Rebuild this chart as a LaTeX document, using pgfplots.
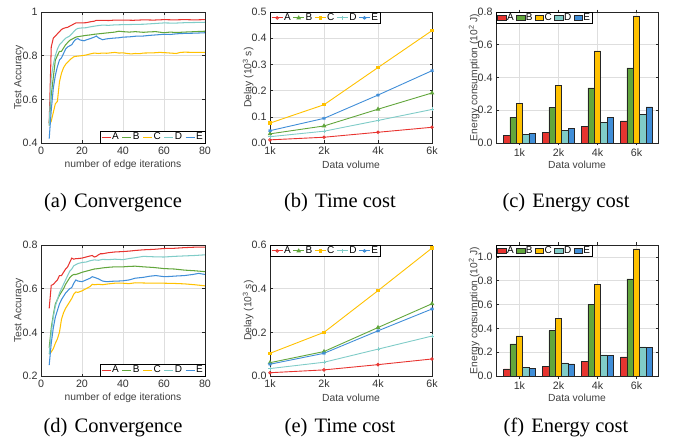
\documentclass[border=0pt]{standalone}
\usepackage{pgfplots}
\pgfplotsset{compat=1.18}
\usepackage{fontspec}
\setmainfont{Liberation Sans}
\newfontfamily\capfont{Liberation Serif}

\definecolor{cA}{RGB}{232,52,48}
\definecolor{cB}{RGB}{98,166,60}
\definecolor{cC}{RGB}{255,193,0}
\definecolor{cD}{RGB}{128,204,200}
\definecolor{cE}{RGB}{64,142,216}

\pgfplotsset{
  panel/.style={
    scale only axis, width=163pt, height=131pt, anchor=south west,
    axis line style={draw=black!85, line width=0.6pt},
    grid=major, major grid style={draw=black!13, line width=0.5pt},
    tick align=inside, major tick length=2.5pt,
    tick style={draw=black!85, line width=0.5pt},
    tick label style={font=\fontsize{10.7}{12}\selectfont, text=black!80},
    label style={font=\fontsize{10.3}{12}\selectfont, text=black!75},
    /pgf/number format/assume math mode=true,
    xlabel style={at={(axis description cs:0.5,-0.165)}, anchor=center},
    ylabel style={at={(axis description cs:-0.135,0.5)}, anchor=center},
  },
  onedec/.style={yticklabel style={/pgf/number format/.cd, fixed, fixed zerofill, precision=1}},
  conv legend/.style={
    legend style={at={(1,0)}, anchor=south east, legend columns=5,
      draw=black, fill=white, font=\fontsize{10}{11}\selectfont,
      inner xsep=1pt, inner ysep=0.5pt,
      nodes={inner xsep=1pt, inner ysep=1pt},
      /tikz/every even column/.append style={column sep=2pt}},
    legend image code/.code={\draw[#1] (0pt,0pt) -- (9pt,0pt);},
  },
  delay legend/.style={
    legend style={at={(0,1)}, anchor=north west, legend columns=5,
      draw=black, fill=white, font=\fontsize{10}{11}\selectfont,
      inner xsep=1pt, inner ysep=0.5pt,
      nodes={inner xsep=1pt, inner ysep=1pt},
      /tikz/every even column/.append style={column sep=1pt}},
    legend image code/.code={\draw[mark repeat=2, mark phase=2, #1]
      plot coordinates {(0pt,0pt) (5.5pt,0pt) (11pt,0pt)};},
  },
  bar legend/.style={
    legend style={at={(0,1)}, anchor=north west, legend columns=5,
      draw=black, fill=white, font=\fontsize{10}{11}\selectfont,
      inner xsep=1pt, inner ysep=0.5pt,
      nodes={inner xsep=0.8pt, inner ysep=1pt},
      /tikz/every even column/.append style={column sep=1.5pt}},
    legend image code/.code={\draw[#1] (0pt,-2.8pt) rectangle (8.5pt,2.8pt);},
  },
  cline/.style={color=#1, line width=1.05pt},
  dline/.style={color=#1, line width=0.9pt, mark options={solid}},
  bars/.style={fill=#1, draw=black!85, line width=0.55pt},
}

\begin{document}
\begin{tikzpicture}
\path[use as bounding box] (0pt,0pt) rectangle (677pt,439pt);

% ---------- (a) convergence, first setting ----------
\begin{axis}[panel, at={(41pt,296pt)}, width=164pt,
  xmin=0, xmax=80, ymin=0.4, ymax=1,
  xtick={0,20,40,60,80}, ytick={0.4,0.6,0.8,1},
  xlabel={number of edge iterations}, ylabel={Test Accuracy},
  conv legend]
\addplot[cline=cA] coordinates {(4,0.49)(5,0.84)(6,0.88)(7,0.89)(8,0.90)(9,0.91)(10,0.92)(11,0.925)(12,0.928)(13,0.93)(14,0.935)(15,0.94)(16,0.945)(17,0.95)(18,0.95)(20,0.95)(22,0.951)(24,0.955)(26,0.958)(27,0.962)(30,0.962)(33,0.961)(36,0.963)(40,0.963)(45,0.962)(50,0.964)(55,0.963)(60,0.965)(65,0.964)(70,0.965)(75,0.964)(80,0.965)};
\addplot[cline=cB] coordinates {(4,0.49)(5,0.62)(6,0.70)(7,0.78)(8,0.80)(9,0.82)(10,0.82)(11,0.835)(12,0.85)(13,0.86)(14,0.87)(15,0.875)(16,0.88)(17,0.885)(18,0.887)(20,0.89)(22,0.893)(24,0.895)(26,0.898)(28,0.90)(30,0.902)(33,0.905)(36,0.908)(38,0.912)(40,0.91)(43,0.908)(46,0.91)(50,0.907)(53,0.909)(56,0.91)(60,0.905)(63,0.908)(66,0.906)(70,0.908)(75,0.91)(80,0.912)};
\addplot[cline=cC] coordinates {(4,0.48)(5,0.50)(6,0.54)(7,0.58)(8,0.59)(9,0.68)(10,0.72)(11,0.745)(12,0.76)(13,0.77)(14,0.78)(15,0.788)(16,0.795)(17,0.797)(18,0.798)(20,0.80)(22,0.803)(24,0.808)(26,0.812)(28,0.81)(30,0.812)(32,0.811)(34,0.813)(36,0.815)(38,0.812)(40,0.813)(42,0.81)(44,0.808)(46,0.81)(48,0.809)(50,0.812)(55,0.813)(58,0.815)(60,0.814)(63,0.812)(66,0.81)(68,0.815)(70,0.816)(75,0.815)(80,0.815)};
\addplot[cline=cD] coordinates {(4,0.48)(5,0.70)(6,0.76)(7,0.80)(8,0.83)(9,0.85)(10,0.86)(11,0.87)(12,0.88)(13,0.885)(14,0.89)(15,0.90)(16,0.91)(17,0.92)(18,0.925)(20,0.927)(22,0.928)(24,0.932)(26,0.935)(28,0.938)(30,0.94)(33,0.939)(36,0.941)(40,0.942)(45,0.943)(50,0.944)(55,0.947)(60,0.95)(65,0.949)(70,0.951)(75,0.952)(80,0.953)};
\addplot[cline=cE] coordinates {(4,0.42)(5,0.55)(6,0.65)(7,0.71)(8,0.75)(9,0.78)(10,0.79)(11,0.81)(12,0.83)(13,0.84)(14,0.845)(15,0.85)(16,0.865)(17,0.875)(18,0.878)(19,0.872)(20,0.87)(21,0.868)(22,0.872)(24,0.878)(26,0.885)(27,0.89)(28,0.882)(30,0.873)(32,0.877)(35,0.88)(38,0.882)(40,0.885)(43,0.886)(46,0.889)(50,0.89)(53,0.893)(56,0.895)(60,0.898)(63,0.897)(66,0.9)(70,0.902)(75,0.903)(80,0.905)};
\legend{A,B,C,D,E}
\end{axis}

% ---------- (b) delay, first setting ----------
\begin{axis}[panel, at={(270pt,296pt)}, width=162pt, clip=false,
  xmin=0, xmax=3, xtick={0,1,2,3}, xticklabels={1k,2k,4k,6k},
  ymin=0, ymax=0.5, ytick={0,0.1,0.2,0.3,0.4,0.5}, onedec,
  xlabel={Data volume}, ylabel={Delay (10\textsuperscript{3} s)},
  delay legend]
\addplot[dline=cA, mark=o, mark size=1.3pt] coordinates {(0,0.012)(1,0.022)(2,0.041)(3,0.060)};
\addplot[dline=cB, mark=triangle*, mark size=1.8pt] coordinates {(0,0.035)(1,0.065)(2,0.129)(3,0.191)};
\addplot[dline=cC, mark=square*, mark size=1.2pt] coordinates {(0,0.076)(1,0.146)(2,0.288)(3,0.429)};
\addplot[dline=cD, mark=+, mark size=2pt] coordinates {(0,0.024)(1,0.045)(2,0.086)(3,0.128)};
\addplot[dline=cE, mark=asterisk, mark size=1.8pt] coordinates {(0,0.047)(1,0.094)(2,0.183)(3,0.276)};
\legend{A,B,C,D,E}
\end{axis}

% ---------- (c) energy, first setting ----------
\begin{axis}[panel, at={(496pt,296pt)}, width=162pt,
  ybar, bar width=0.163,
  xmin=0.4, xmax=4.55, xtick={1,2,3,4}, xticklabels={1k,2k,4k,6k},
  ymin=0, ymax=0.8, ytick={0,0.2,0.4,0.6,0.8}, onedec,
  xlabel={Data volume}, ylabel={Energy consumption (10\textsuperscript{2} J)},
  bar legend]
\addplot[bars=cA, bar shift=-0.326] coordinates {(1,0.047)(2,0.066)(3,0.100)(4,0.135)};
\addplot[bars=cB, bar shift=-0.163] coordinates {(1,0.158)(2,0.218)(3,0.337)(4,0.459)};
\addplot[bars=cC, bar shift=0] coordinates {(1,0.243)(2,0.352)(3,0.563)(4,0.776)};
\addplot[bars=cD, bar shift=0.163] coordinates {(1,0.053)(2,0.079)(3,0.128)(4,0.177)};
\addplot[bars=cE, bar shift=0.326] coordinates {(1,0.058)(2,0.090)(3,0.155)(4,0.220)};
\legend{A,B,C,D,E}
\end{axis}

% ---------- (d) convergence, second setting ----------
\begin{axis}[panel, at={(41pt,63pt)}, width=164pt,
  xmin=0, xmax=80, ymin=0.2, ymax=0.8,
  xtick={0,20,40,60,80}, ytick={0.2,0.4,0.6,0.8},
  xlabel={number of edge iterations}, ylabel={Test Accuracy},
  conv legend]
\addplot[cline=cA] coordinates {(4,0.51)(5,0.615)(6,0.62)(7,0.63)(8,0.64)(9,0.66)(10,0.66)(11,0.675)(12,0.69)(13,0.70)(14,0.72)(15,0.74)(16,0.735)(17,0.738)(18,0.738)(20,0.74)(22,0.745)(24,0.75)(25,0.752)(26,0.745)(27,0.748)(28,0.755)(29,0.76)(30,0.76)(33,0.765)(36,0.768)(40,0.77)(43,0.772)(46,0.775)(50,0.778)(55,0.78)(60,0.784)(65,0.785)(70,0.788)(75,0.79)(80,0.79)};
\addplot[cline=cB] coordinates {(4,0.33)(5,0.42)(6,0.48)(7,0.53)(8,0.55)(9,0.57)(10,0.585)(11,0.60)(12,0.62)(13,0.635)(14,0.65)(15,0.66)(16,0.665)(17,0.665)(18,0.668)(20,0.675)(22,0.68)(24,0.685)(26,0.69)(28,0.692)(30,0.695)(33,0.698)(36,0.70)(40,0.70)(43,0.702)(46,0.703)(50,0.70)(55,0.697)(60,0.692)(65,0.69)(70,0.685)(75,0.682)(80,0.678)};
\addplot[cline=cC] coordinates {(4,0.30)(5,0.31)(6,0.325)(7,0.35)(8,0.37)(9,0.40)(10,0.46)(11,0.49)(12,0.51)(13,0.525)(14,0.54)(15,0.555)(16,0.575)(17,0.585)(18,0.583)(20,0.59)(22,0.60)(24,0.61)(25,0.62)(26,0.618)(28,0.62)(30,0.618)(33,0.622)(36,0.625)(40,0.625)(43,0.623)(46,0.627)(50,0.626)(55,0.625)(60,0.625)(65,0.624)(70,0.622)(75,0.618)(80,0.613)};
\addplot[cline=cD] coordinates {(4,0.30)(5,0.40)(6,0.47)(7,0.52)(8,0.55)(9,0.58)(10,0.60)(11,0.62)(12,0.64)(13,0.66)(14,0.68)(15,0.69)(16,0.705)(17,0.71)(18,0.715)(20,0.72)(22,0.722)(24,0.728)(26,0.732)(28,0.73)(30,0.734)(33,0.733)(36,0.735)(40,0.733)(43,0.738)(46,0.742)(50,0.748)(55,0.746)(60,0.745)(65,0.748)(70,0.75)(75,0.752)(80,0.755)};
\addplot[cline=cE] coordinates {(4,0.25)(5,0.35)(6,0.42)(7,0.47)(8,0.50)(9,0.53)(10,0.55)(11,0.565)(12,0.58)(13,0.59)(14,0.60)(15,0.605)(16,0.625)(17,0.64)(18,0.635)(20,0.632)(22,0.64)(24,0.648)(25,0.655)(26,0.652)(28,0.645)(30,0.635)(32,0.632)(35,0.634)(38,0.635)(40,0.636)(43,0.64)(46,0.648)(50,0.652)(53,0.657)(56,0.66)(60,0.655)(63,0.656)(66,0.658)(70,0.66)(74,0.665)(77,0.67)(80,0.665)};
\legend{A,B,C,D,E}
\end{axis}

% ---------- (e) delay, second setting ----------
\begin{axis}[panel, at={(270pt,63pt)}, width=162pt, clip=false,
  xmin=0, xmax=3, xtick={0,1,2,3}, xticklabels={1k,2k,4k,6k},
  ymin=0, ymax=0.6, ytick={0,0.2,0.4,0.6}, onedec,
  xlabel={Data volume}, ylabel={Delay (10\textsuperscript{3} s)},
  delay legend]
\addplot[dline=cA, mark=o, mark size=1.3pt] coordinates {(0,0.015)(1,0.028)(2,0.052)(3,0.078)};
\addplot[dline=cB, mark=triangle*, mark size=1.8pt] coordinates {(0,0.061)(1,0.112)(2,0.222)(3,0.331)};
\addplot[dline=cC, mark=square*, mark size=1.2pt] coordinates {(0,0.104)(1,0.200)(2,0.391)(3,0.586)};
\addplot[dline=cD, mark=+, mark size=2pt] coordinates {(0,0.034)(1,0.063)(2,0.123)(3,0.183)};
\addplot[dline=cE, mark=asterisk, mark size=1.8pt] coordinates {(0,0.054)(1,0.104)(2,0.207)(3,0.307)};
\legend{A,B,C,D,E}
\end{axis}

% ---------- (f) energy, second setting ----------
\begin{axis}[panel, at={(496pt,63pt)}, width=162pt,
  ybar, bar width=0.163,
  xmin=0.4, xmax=4.55, xtick={1,2,3,4}, xticklabels={1k,2k,4k,6k},
  ymin=0, ymax=1.1, ytick={0,0.2,0.4,0.6,0.8,1.0}, onedec,
  xlabel={Data volume}, ylabel={Energy consumption (10\textsuperscript{2} J)},
  bar legend]
\addplot[bars=cA, bar shift=-0.326] coordinates {(1,0.060)(2,0.080)(3,0.120)(4,0.160)};
\addplot[bars=cB, bar shift=-0.163] coordinates {(1,0.270)(2,0.382)(3,0.600)(4,0.815)};
\addplot[bars=cC, bar shift=0] coordinates {(1,0.336)(2,0.482)(3,0.772)(4,1.068)};
\addplot[bars=cD, bar shift=0.163] coordinates {(1,0.072)(2,0.110)(3,0.177)(4,0.245)};
\addplot[bars=cE, bar shift=0.326] coordinates {(1,0.065)(2,0.101)(3,0.170)(4,0.240)};
\legend{A,B,C,D,E}
\end{axis}

% ---------- captions ----------
\begin{scope}[every node/.style={font=\capfont\fontsize{20.5}{23}\selectfont, inner sep=0pt}]
\node at (113pt,236.5pt) {(a)\hspace{0.35em}Convergence};
\node at (340pt,236.5pt) {(b)\hspace{0.35em}Time cost};
\node at (566pt,236.5pt) {(c)\hspace{0.35em}Energy cost};
\node at (113pt,11.5pt) {(d)\hspace{0.35em}Convergence};
\node at (340pt,11.5pt) {(e)\hspace{0.35em}Time cost};
\node at (566pt,11.5pt) {(f)\hspace{0.35em}Energy cost};
\end{scope}
\end{tikzpicture}
\end{document}
